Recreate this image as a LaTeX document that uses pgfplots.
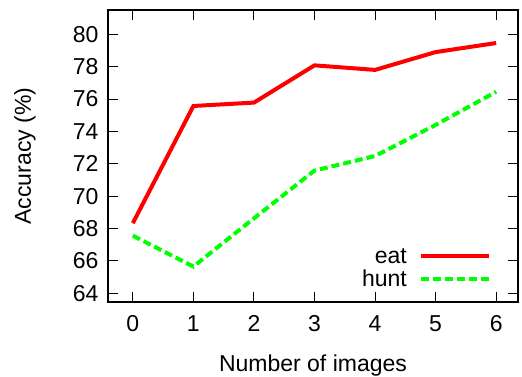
\documentclass[border=0pt]{standalone}
\usepackage{fontspec}
\setmainfont{Liberation Sans}
\usepackage{pgfplots}
\pgfplotsset{compat=1.18}
\definecolor{gred}{RGB}{255,0,0}
\definecolor{ggreen}{RGB}{0,255,0}
\begin{document}
\begin{tikzpicture}
\path[use as bounding box] (-108pt,-74pt) rectangle (414pt,302pt);
\begin{axis}[
  at={(0pt,0pt)}, anchor=south west,
  scale only axis, width=410pt, height=292pt,
  xmin=-0.41, xmax=6.36, ymin=63.46, ymax=81.5,
  xtick={0,...,6}, ytick={64,66,...,80},
  tick align=inside, major tick length=10pt,
  tick style={line width=1pt, black},
  axis line style={line width=1.5pt},
  /pgf/number format/assume math mode=true,
  tick label style={font=\fontsize{23}{27}\selectfont},
  label style={font=\fontsize{23}{27}\selectfont},
  xlabel={Number of images},
  ylabel={Accuracy (\%)},
  xticklabel style={anchor=base, yshift=-29pt},
  yticklabel style={xshift=-6pt},
  xlabel style={at={(axis description cs:0.5,-0.2397)}, anchor=base},
  ylabel style={at={(axis description cs:-0.2024,0.5)}, anchor=center, rotate=0},
  legend style={draw=none, fill=none, at={(1,0)}, anchor=south east,
    xshift=-27pt, yshift=12pt, font=\fontsize{23}{23}\selectfont,
    column sep=10pt, row sep=1pt, inner sep=0pt},
  legend cell align=right,
  legend plot pos=right,
  legend image code/.code={\draw[#1] (0pt,0pt) -- (68pt,0pt);},
]
\addplot[color=gred, line width=4pt] coordinates {
(0,68.33) (1,75.57) (2,75.78) (3,78.08) (4,77.8) (5,78.9) (6,79.46)};
\addlegendentry{eat}
\addplot[color=ggreen, line width=4pt, dash pattern=on 8pt off 4pt] coordinates {
(0,67.56) (1,65.65) (2,68.63) (3,71.58) (4,72.48) (5,74.4) (6,76.45)};
\addlegendentry{hunt}
\end{axis}
\end{tikzpicture}
\end{document}
